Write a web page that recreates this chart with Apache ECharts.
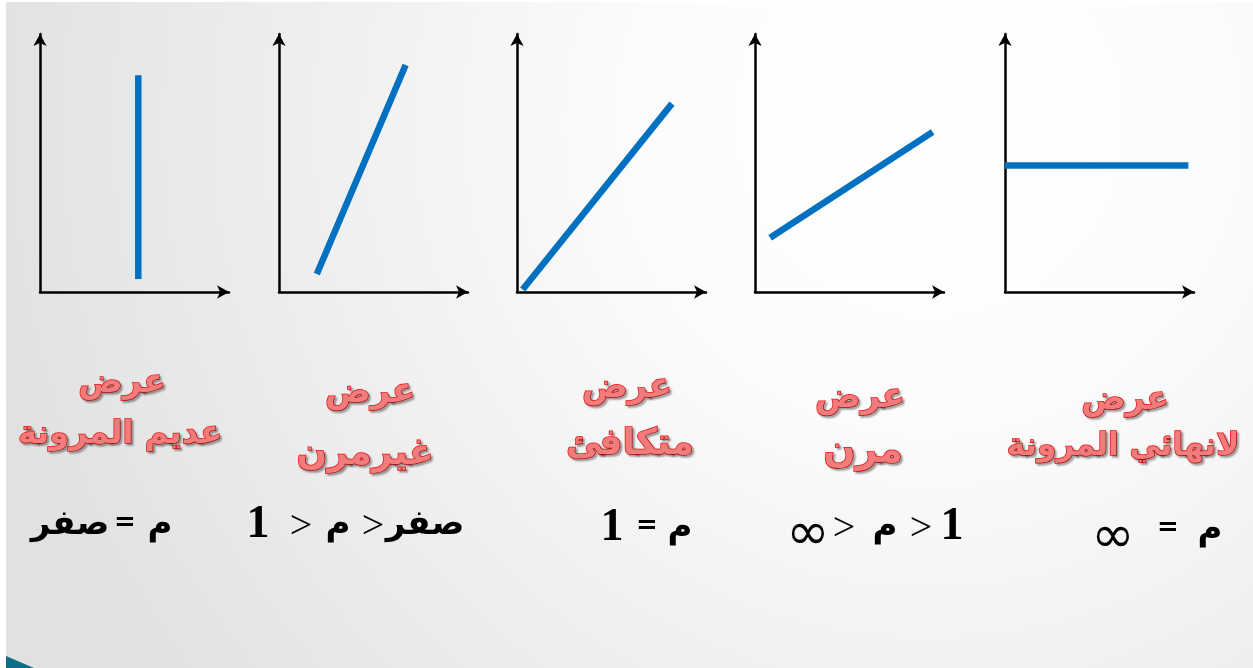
<!DOCTYPE html>
<html>
<head>
<meta charset="utf-8">
<title>مرونة العرض</title>
<script src="https://cdn.jsdelivr.net/npm/echarts@6/dist/echarts.min.js"></script>
<style>
  html, body { margin: 0; padding: 0; background: #fff; }
  #main { width: 1253px; height: 668px; }
</style>
</head>
<body>
<div id="main"></div>
<script>
// supply curves, one per panel (axis units 0..100)
var lineX = [[52, 52], [20, 67], [3, 82], [8, 94], [0, 97]];
var lineY = [[5, 84], [7, 88], [1, 73], [21, 62], [49, 49]];

// labels under each panel
var titleTop = ['عرض', 'عرض', 'عرض', 'عرض', 'عرض'];
var titleBottom = ['عديم المرونة', 'غيرمرن', 'متكافئ', 'مرن', 'لانهائي المرونة'];
// elasticity conditions, tokens in visual order (left to right)
var formulas = [
    ['صفر', '=', 'م'],
    ['1', '>', 'م', '>', 'صفر'],
    ['1', '=', 'م'],
    ['∞', '>', 'م', '>', '1'],
    ['∞', '=', 'م']
];

// layout
var gridLeft = [40, 279, 517, 755, 1005];
var titlePos = [[122, 383, 120, 435], [370, 393, 365, 455], [627, 388, 630, 445], [860, 398, 863, 452], [1125, 400, 1123, 447]];
var titleSize = [[33, 32], [34, 36], [34, 36], [34, 38], [33, 31]];
var formulaX = [
    [70, 125, 160],
    [258, 301, 338, 373, 425],
    [612, 647, 680],
    [808, 844, 885, 921, 952],
    [1113, 1168, 1210]
];
var formulaY = [525, 525, 528, 527, 530];

var myChart = echarts.init(document.getElementById('main'));

var grids = [], xAxes = [], yAxes = [], series = [];
var axisStyle = {
    show: true,
    symbol: ['none', 'arrow'],
    symbolSize: [10, 12],
    lineStyle: { color: '#000', width: 2.5 }
};

for (var i = 0; i < 5; i++) {
    grids.push({ left: gridLeft[i], top: 34, width: 189, height: 258 });
    xAxes.push({
        type: 'value', gridIndex: i, min: 0, max: 100,
        axisLine: axisStyle, axisTick: { show: false },
        axisLabel: { show: false }, splitLine: { show: false }
    });
    yAxes.push({
        type: 'value', gridIndex: i, min: 0, max: 100,
        axisLine: axisStyle, axisTick: { show: false },
        axisLabel: { show: false }, splitLine: { show: false }
    });
    series.push({
        type: 'line', xAxisIndex: i, yAxisIndex: i,
        showSymbol: false, clip: false,
        lineStyle: { color: '#0070C0', width: 6.5, cap: 'butt' },
        data: [[lineX[i][0], lineY[i][0]], [lineX[i][1], lineY[i][1]]]
    });
}

var redStyle = {
    fill: '#f27c7c',
    stroke: '#e81414',
    lineWidth: 1.5,
    fontFamily: '"DejaVu Sans"',
    fontWeight: 'bold',
    align: 'center',
    verticalAlign: 'middle',
    textShadowColor: 'rgba(0,0,0,0.3)',
    textShadowBlur: 2,
    textShadowOffsetX: 2,
    textShadowOffsetY: 2
};

// style per token kind
function tokenStyle(t) {
    if (t === '1') return { fontFamily: '"Liberation Serif"', fontWeight: 'bold', fontSize: 46, dy: 0 };
    if (t === '>') return { fontFamily: '"Liberation Serif"', fontWeight: 'normal', fontSize: 40, dy: 2 };
    if (t === '=') return { fontFamily: '"DejaVu Sans"', fontWeight: 'bold', fontSize: 26, dy: -2 };
    if (t === '∞') return { fontFamily: '"DejaVu Sans"', fontWeight: 'normal', fontSize: 52, dy: 8 };
    return { fontFamily: '"DejaVu Sans"', fontWeight: 'bold', fontSize: 34, dy: 0 };
}

var graphics = [
    { type: 'rect', z: -10, shape: { x: 0, y: 0, width: 1253, height: 668 }, style: { fill: '#fff' } },
    {
        type: 'rect', z: -9, shape: { x: 6, y: 2, width: 1247, height: 666 },
        style: {
            fill: {
                type: 'radial', x: 0.74, y: 0.18, r: 1.45,
                colorStops: [
                    { offset: 0, color: '#ffffff' },
                    { offset: 0.3, color: '#fcfcfc' },
                    { offset: 1, color: '#e1e1e1' }
                ]
            }
        }
    },
    { type: 'polygon', z: -8, shape: { points: [[6, 656], [34, 668], [6, 668]] }, style: { fill: '#0f6e87' } }
];

for (var j = 0; j < 5; j++) {
    graphics.push({
        type: 'text', x: titlePos[j][0], y: titlePos[j][1],
        style: Object.assign({}, redStyle, { text: titleTop[j], fontSize: titleSize[j][0] })
    });
    graphics.push({
        type: 'text', x: titlePos[j][2], y: titlePos[j][3],
        style: Object.assign({}, redStyle, { text: titleBottom[j], fontSize: titleSize[j][1] })
    });
    for (var k = 0; k < formulas[j].length; k++) {
        var tok = formulas[j][k];
        var ts = tokenStyle(tok);
        graphics.push({
            type: 'text', x: formulaX[j][k], y: formulaY[j] + ts.dy,
            style: {
                text: tok,
                fill: '#000',
                fontFamily: ts.fontFamily,
                fontWeight: ts.fontWeight,
                fontSize: ts.fontSize,
                align: 'center',
                verticalAlign: 'middle'
            }
        });
    }
}

var option = {
    animation: false,
    grid: grids,
    xAxis: xAxes,
    yAxis: yAxes,
    series: series,
    graphic: graphics
};

myChart.setOption(option);
</script>
</body>
</html>
